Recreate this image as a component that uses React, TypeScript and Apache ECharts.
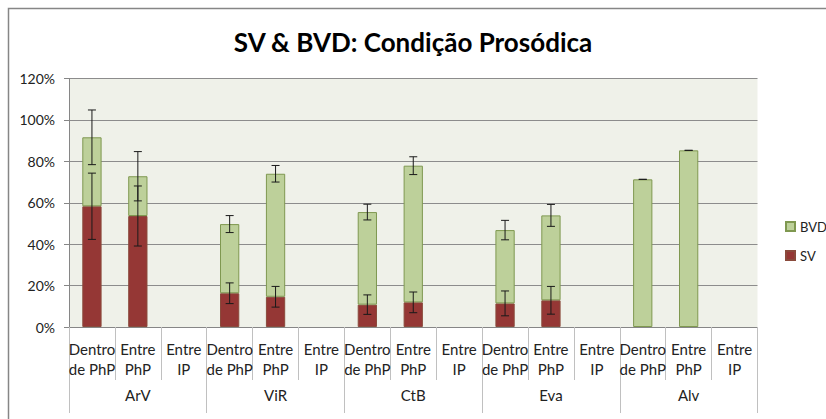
import React, { useEffect, useRef } from "react";
import * as echarts from "echarts";

const categories = [
  "Dentro\nde PhP", "Entre\nPhP", "Entre\nIP",
  "Dentro\nde PhP", "Entre\nPhP", "Entre\nIP",
  "Dentro\nde PhP", "Entre\nPhP", "Entre\nIP",
  "Dentro\nde PhP", "Entre\nPhP", "Entre\nIP",
  "Dentro\nde PhP", "Entre\nPhP", "Entre\nIP",
];
const groups = ["ArV", "ViR", "CtB", "Eva", "Alv"];
const svValues = [58.3, 53.6, null, 16.3, 14.6, null, 10.8, 11.9, null, 11.4, 12.9, null, null, null, null];
const bvdValues = [33.3, 19.2, null, 33.4, 59.4, null, 44.7, 66.0, null, 35.4, 41.0, null, 71.3, 85.3, null];
const svErr = [16.0, 14.5, null, 5.0, 5.0, null, 4.7, 5.0, null, 6.0, 6.7, null, null, null, null];
const bvdErr = [13.2, 11.9, null, 4.1, 4.0, null, 3.8, 4.3, null, 4.7, 5.3, null, 0, 0, null];
const yTicks = { min: 0, max: 120, interval: 20 };

const FONT = "Lato";

export default function App() {
  const ref = useRef<HTMLDivElement>(null);
  useEffect(() => {
    const chart = echarts.init(ref.current!, null, { renderer: "svg" });

    const svErrData: any[] = [];
    const bvdErrData: any[] = [];
    categories.forEach((_, i) => {
      const sv = svValues[i] ?? 0;
      const bvd = bvdValues[i] ?? 0;
      if (svErr[i] !== null) svErrData.push([i, sv, svErr[i]]);
      if (bvdErr[i] !== null) bvdErrData.push([i, sv + bvd, bvdErr[i]]);
    });

    const renderErr = (params: any, api: any) => {
      const idx = api.value(0);
      const c = api.value(1);
      const e = api.value(2);
      const top = api.coord([idx, c + e]);
      const bot = api.coord([idx, c - e]);
      const hw = 4;
      const style = { stroke: "#1a1a1a", lineWidth: 1 };
      return {
        type: "group",
        children: [
          { type: "line", shape: { x1: top[0], y1: top[1], x2: bot[0], y2: bot[1] }, style },
          { type: "line", shape: { x1: top[0] - hw, y1: top[1], x2: top[0] + hw, y2: top[1] }, style },
          { type: "line", shape: { x1: bot[0] - hw, y1: bot[1], x2: bot[0] + hw, y2: bot[1] }, style },
        ],
      };
    };

    chart.setOption({
      animation: false,
      textStyle: { fontFamily: FONT },
      title: {
        text: "SV & BVD: Condição Prosódica",
        left: "center",
        top: 24,
        textStyle: { fontFamily: FONT, fontSize: 26, fontWeight: "bold", color: "#000" },
      },
      graphic: [
        {
          type: "rect",
          shape: { x: 8.5, y: 8.5, width: 1000, height: 1000 },
          style: { fill: "none", stroke: "#868686", lineWidth: 1.5 },
          silent: true,
        },
      ],
      legend: {
        data: [
          { name: "BVD", icon: "rect" },
          { name: "SV", icon: "rect" },
        ],
        orient: "vertical",
        left: 780,
        top: 215,
        itemWidth: 9,
        itemHeight: 9,
        itemGap: 16,
        textStyle: { fontFamily: FONT, fontSize: 13, color: "#222" },
      },
      grid: {
        left: 69,
        right: 68.5,
        top: 78.5,
        bottom: 92,
        show: true,
        backgroundColor: "#eff1e9",
        borderWidth: 0,
      },
      xAxis: [
        {
          type: "category",
          data: categories,
          axisLine: { show: true, lineStyle: { color: "#868686" } },
          axisTick: { show: true, interval: 0, length: 53, lineStyle: { color: "#c0c0c0" } },
          axisLabel: {
            interval: 0,
            margin: 12,
            lineHeight: 20,
            fontSize: 15,
            fontFamily: FONT,
            color: "#222",
          },
        },
        {
          type: "category",
          data: groups,
          position: "bottom",
          offset: 53,
          axisLine: { show: false },
          axisTick: { show: true, interval: 0, length: 33, lineStyle: { color: "#c0c0c0" } },
          axisLabel: { interval: 0, margin: 7, fontSize: 15, fontFamily: FONT, color: "#222" },
        },
      ],
      yAxis: {
        type: "value",
        min: yTicks.min,
        max: yTicks.max,
        interval: yTicks.interval,
        axisLine: { show: true, lineStyle: { color: "#868686" } },
        axisTick: { show: true, length: 5, lineStyle: { color: "#868686" } },
        axisLabel: { formatter: "{value}%", margin: 14, fontSize: 14, fontFamily: FONT, color: "#222" },
        splitLine: { show: true, lineStyle: { color: "#8c8c8c", width: 1 } },
      },
      series: [
        {
          name: "SV",
          type: "bar",
          stack: "total",
          barWidth: "42%",
          data: svValues,
          itemStyle: { color: "#953735", borderColor: "#8a4a3c", borderWidth: 1 },
        },
        {
          name: "BVD",
          type: "bar",
          stack: "total",
          barWidth: "42%",
          data: bvdValues,
          itemStyle: { color: "#bdd09a", borderColor: "#7f9850", borderWidth: 1 },
        },
        {
          name: "SV err",
          type: "custom",
          renderItem: renderErr,
          data: svErrData,
          encode: { x: 0, y: 1 },
          z: 10,
        },
        {
          name: "BVD err",
          type: "custom",
          renderItem: renderErr,
          data: bvdErrData,
          encode: { x: 0, y: 1 },
          z: 10,
        },
      ],
    });
    return () => chart.dispose();
  }, []);
  return (
    <div
      ref={ref}
      style={{ position: "absolute", left: 0, top: 0, width: 826, height: 419, background: "#fff" }}
    />
  );
}
